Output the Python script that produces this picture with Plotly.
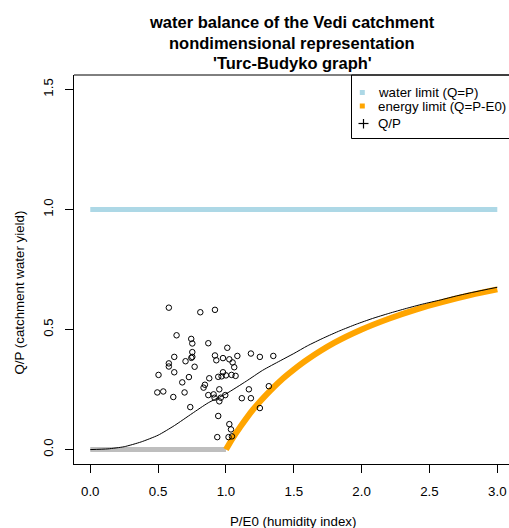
import plotly.graph_objects as go

# ---------------- data ----------------
title_lines = ["water balance of the Vedi catchment",
               "nondimensional representation",
               "'Turc-Budyko graph'"]
x_title = "P/E0 (humidity index)"
y_title = "Q/P (catchment water yield)"
legend_labels = ["water limit (Q=P)", "energy limit (Q=P-E0)", "Q/P"]

x_ticks = [0.0, 0.5, 1.0, 1.5, 2.0, 2.5, 3.0]
x_ticktext = ["0.0", "0.5", "1.0", "1.5", "2.0", "2.5", "3.0"]
y_ticks = [0.0, 0.5, 1.0, 1.5]
y_ticktext = ["0.0", "0.5", "1.0", "1.5"]

# water limit line
water_x = [0.0, 3.0]
water_y = [1.0, 1.0]

# energy limit (grey part for P/E0 < 1, orange part above)
grey_x = [0.0, 1.0]
grey_y = [0.0, 0.0]
energy_x = [1.0, 1.05, 1.1, 1.2, 1.3, 1.4, 1.5, 1.6, 1.8, 2.0, 2.2, 2.4, 2.6, 2.8, 3.0]
energy_y = [0.0, 0.048, 0.09, 0.167, 0.23, 0.286, 0.333, 0.375, 0.445, 0.5, 0.545,
            0.583, 0.615, 0.643, 0.667]

# Turc-Budyko curve
curve_x = [0.0, 0.13, 0.25, 0.375, 0.5, 0.62, 0.75, 0.87, 1.0, 1.15, 1.27, 1.4, 1.5,
           1.6, 1.72, 1.84, 1.96, 2.08, 2.2, 2.33, 2.45, 2.58, 2.7, 2.82, 3.0]
curve_y = [0.0, 0.003, 0.012, 0.032, 0.06, 0.10, 0.15, 0.195, 0.232, 0.285, 0.33,
           0.37, 0.40, 0.432, 0.465, 0.495, 0.522, 0.546, 0.567, 0.588, 0.606,
           0.623, 0.640, 0.655, 0.676]

# observed Q/P points
obs_x = [0.579, 0.811, 0.919, 0.636, 0.744, 0.752, 0.870, 1.010, 0.752, 0.752, 0.745,
         0.619, 0.919, 0.929, 0.978, 1.025, 1.084, 1.184, 1.250, 1.349, 0.702, 0.579,
         0.579, 0.769, 1.049, 1.061, 0.619, 0.503, 0.727, 0.877, 0.943, 0.968, 0.978,
         1.000, 1.041, 1.071, 0.678, 0.845, 0.835, 0.494, 0.538, 0.695, 0.951, 0.870,
         0.909, 0.995, 0.612, 0.916, 0.962, 0.951, 1.169, 1.117, 1.184, 1.316, 0.737,
         1.250, 0.943, 1.025, 1.037, 0.936, 1.019, 1.044]
obs_y = [0.591, 0.572, 0.582, 0.476, 0.461, 0.442, 0.443, 0.424, 0.406, 0.386, 0.382,
         0.386, 0.392, 0.372, 0.381, 0.376, 0.390, 0.400, 0.386, 0.390, 0.368, 0.359,
         0.346, 0.345, 0.363, 0.343, 0.322, 0.311, 0.302, 0.297, 0.303, 0.305, 0.322,
         0.309, 0.311, 0.307, 0.280, 0.270, 0.258, 0.238, 0.242, 0.238, 0.251, 0.227,
         0.230, 0.227, 0.219, 0.216, 0.216, 0.201, 0.251, 0.214, 0.214, 0.264, 0.177,
         0.173, 0.140, 0.106, 0.084, 0.052, 0.052, 0.055]

# ---------------- figure ----------------
W, H = 509, 528
L, R, T, B = 74, 0, 75, 64
PW, PH = W - L - R, H - T - B

def px(x):
    return (x - L) / PW

def py(y):
    return (H - B - y) / PH

FONT = "Liberation Sans, Arial, sans-serif"

fig = go.Figure()
fig.add_trace(go.Scatter(x=water_x, y=water_y, mode="lines",
                         line=dict(color="#ADD8E6", width=5), hoverinfo="skip"))
fig.add_trace(go.Scatter(x=grey_x, y=grey_y, mode="lines",
                         line=dict(color="#BEBEBE", width=5), hoverinfo="skip"))
fig.add_trace(go.Scatter(x=energy_x, y=energy_y, mode="lines",
                         line=dict(color="#FFA500", width=6, shape="spline"), hoverinfo="skip"))
fig.add_trace(go.Scatter(x=curve_x, y=curve_y, mode="lines",
                         line=dict(color="black", width=1, shape="spline", smoothing=0.6),
                         hoverinfo="skip"))
fig.add_trace(go.Scatter(x=obs_x, y=obs_y, mode="markers",
                         marker=dict(symbol="circle-open", size=5.5, color="black",
                                     line=dict(width=1, color="black"))))

annotations = []
for txt, yy in zip(title_lines, [22, 43, 63]):
    annotations.append(dict(text="<b>%s</b>" % txt, x=px(292), y=py(yy), xref="paper",
                            yref="paper", showarrow=False, xanchor="center",
                            yanchor="middle", font=dict(size=16.5, color="black", family=FONT)))
annotations.append(dict(text=x_title, x=px(292.5), y=py(521), xref="paper", yref="paper",
                        showarrow=False, xanchor="center", yanchor="middle",
                        font=dict(size=13.3, color="black", family=FONT)))
annotations.append(dict(text=y_title, x=px(19), y=py(292.5), xref="paper", yref="paper",
                        showarrow=False, xanchor="center", yanchor="middle", textangle=-90,
                        font=dict(size=13.3, color="black", family=FONT)))
for txt, yy in zip(legend_labels, [92.5, 106.5, 123]):
    annotations.append(dict(text=txt, x=px(376), y=py(yy), xref="paper", yref="paper",
                            showarrow=False, xanchor="left", yanchor="middle",
                            font=dict(size=13.3, color="black", family=FONT)))

shapes = [
    # top border of plot box
    dict(type="line", xref="paper", yref="paper", x0=0, x1=1.05, y0=1, y1=1,
         line=dict(color="black", width=1)),
    # legend box
    dict(type="rect", xref="paper", yref="paper", x0=px(351.5), x1=1.05,
         y0=py(138.5), y1=1, line=dict(color="black", width=1), fillcolor="white",
         layer="below"),
    # legend symbols
    dict(type="rect", xref="paper", yref="paper", x0=px(359.8), x1=px(364.8),
         y0=py(95), y1=py(90), line=dict(width=0), fillcolor="#ADD8E6"),
    dict(type="rect", xref="paper", yref="paper", x0=px(359.8), x1=px(364.8),
         y0=py(108.5), y1=py(103.5), line=dict(width=0), fillcolor="#FFA500"),
    dict(type="line", xref="paper", yref="paper", x0=px(358.5), x1=px(368.5),
         y0=py(123.5), y1=py(123.5), line=dict(color="black", width=1.2)),
    dict(type="line", xref="paper", yref="paper", x0=px(363.5), x1=px(363.5),
         y0=py(119), y1=py(128.5), line=dict(color="black", width=1.2)),
]

fig.update_layout(
    width=W, height=H,
    margin=dict(l=L, r=R, t=T, b=B),
    plot_bgcolor="white", paper_bgcolor="white",
    showlegend=False,
    font=dict(family=FONT, size=13.3, color="black"),
    annotations=annotations,
    shapes=shapes,
    xaxis=dict(range=[-0.12, -0.12 + PW / 135.67], tickvals=x_ticks, ticktext=x_ticktext,
               showgrid=False, zeroline=False, showline=True, linecolor="black",
               linewidth=1, ticks="outside", ticklen=8, tickcolor="black",
               ticklabelstandoff=7, tickfont=dict(size=13.3, color="black")),
    yaxis=dict(range=[-0.06, 1.56], tickvals=y_ticks, ticktext=y_ticktext,
               showgrid=False, zeroline=False, showline=True, linecolor="black",
               linewidth=1, ticks="outside", ticklen=8, tickcolor="black",
               tickangle=-90, ticklabelstandoff=7, tickfont=dict(size=13.3, color="black")),
)

fig.write_html("out.html",
               config={"displayModeBar": False},
               post_script="document.body.style.margin='0px';"
                           "document.body.style.overflow='hidden';")
